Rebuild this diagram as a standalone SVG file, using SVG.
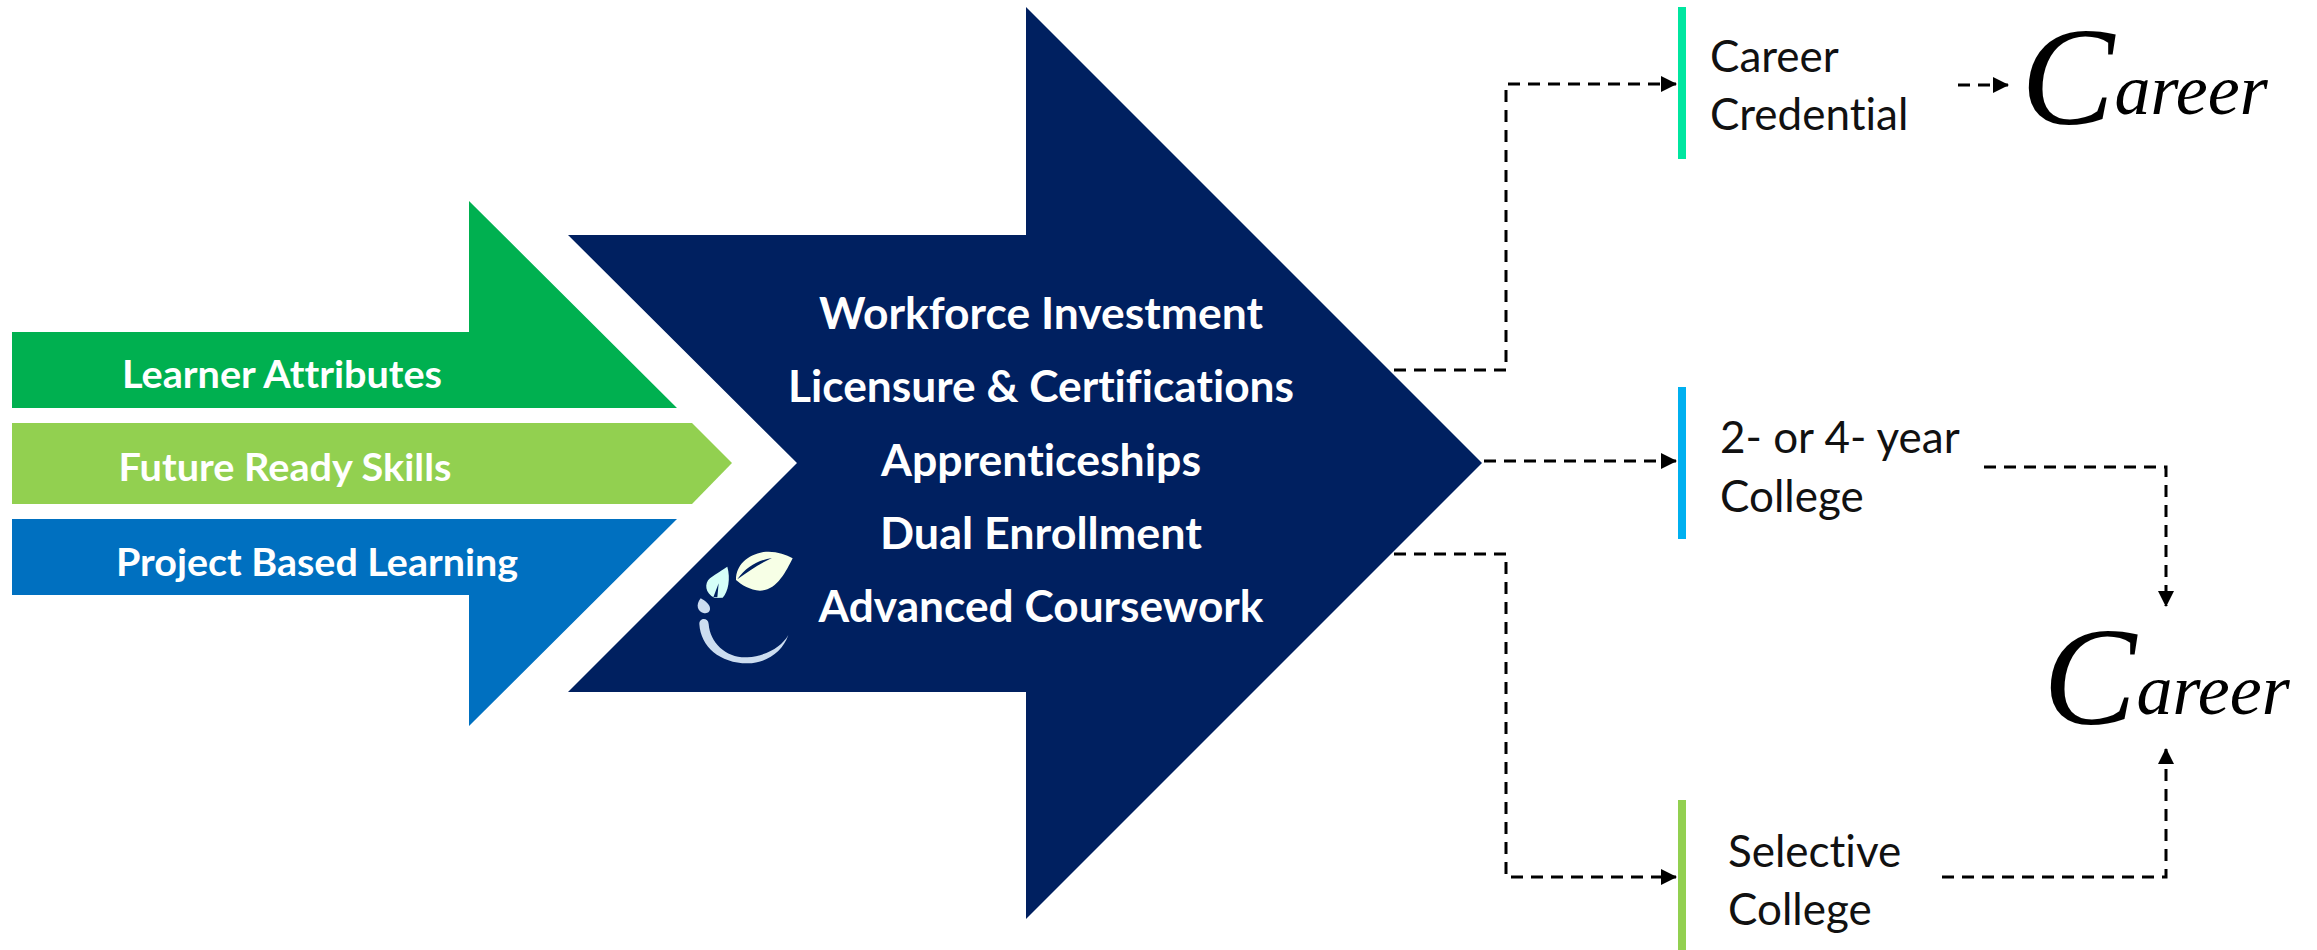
<svg xmlns="http://www.w3.org/2000/svg" width="2317" height="950" viewBox="0 0 2317 950">
<style>
text{font-variant-ligatures:none}
.w{font-family:Lato,"Liberation Sans",sans-serif;font-weight:700;fill:#fff;text-anchor:middle}
.s{font-size:38px}
.m{font-size:44px}
.b{font-family:Lato,"Liberation Sans",sans-serif;font-size:44px;fill:#111}
.c{font-family:"Liberation Serif",serif;font-style:italic;fill:#000;font-size:140px}
.c tspan{font-size:72px}
.d{fill:none;stroke:#000;stroke-width:3;stroke-dasharray:12 8;marker-end:url(#a)}
</style>
<defs><marker id="a" markerUnits="userSpaceOnUse" markerWidth="16" markerHeight="16" refX="15" refY="8" orient="auto"><path d="M0 0L16 8L0 16Z" fill="#000"/></marker></defs>
<rect width="2317" height="950" fill="#fff"/>
<g id="node-learner"><path d="M12 332H469V201L677 408H12Z" fill="#00B050"/><text class="w s" x="282" y="388" textLength="320" lengthAdjust="spacingAndGlyphs">Learner Attributes</text></g>
<g id="node-future"><path d="M12 423H692L732 463L692 504H12Z" fill="#92D050"/><text class="w s" x="285" y="481" textLength="333" lengthAdjust="spacingAndGlyphs">Future Ready Skills</text></g>
<g id="node-project"><path d="M12 519H677L469 726V595H12Z" fill="#0070C0"/><text class="w s" x="317" y="576" textLength="402" lengthAdjust="spacingAndGlyphs">Project Based Learning</text></g>
<g id="node-main"><path d="M568 235H1026V7L1482 463L1026 919V692H568L797 463Z" fill="#002060"/>
<text class="w m" x="1041" y="329" textLength="444" lengthAdjust="spacingAndGlyphs">Workforce Investment</text>
<text class="w m" x="1041" y="402" textLength="506" lengthAdjust="spacingAndGlyphs">Licensure &amp; Certifications</text>
<text class="w m" x="1041" y="476" textLength="320" lengthAdjust="spacingAndGlyphs">Apprenticeships</text>
<text class="w m" x="1041" y="549" textLength="322" lengthAdjust="spacingAndGlyphs">Dual Enrollment</text>
<text class="w m" x="1041" y="622" textLength="445" lengthAdjust="spacingAndGlyphs">Advanced Coursework</text>
<g id="logo" transform="translate(660 530) scale(.3333)">
<path d="M228 150C228 105 262 75 310 66C345 62 375 72 398 85C378 125 350 182 300 182C270 180 245 165 228 150Z" fill="#F7FFE6"/>
<path d="M232 148C258 110 295 90 336 84C300 100 268 122 232 148Z" fill="#002060"/>
<path d="M164 204C135 190 132 160 150 145C170 130 190 118 202 110C212 145 205 185 188 203Z" fill="#D5FFF8"/>
<path d="M160 202L176 160L172 202Z" fill="#002060"/>
<path d="M133 250C112 245 106 225 122 205C135 212 152 225 150 238C148 248 142 250 133 250Z" fill="#CCDDF0"/>
<path d="M118 282C118 262 145 262 146 282C150 340 200 385 262 382C320 378 365 350 385 315C368 365 320 400 262 400C180 400 122 350 118 282Z" fill="#CCDDF0"/>
</g></g>
<g id="node-credential"><rect x="1678" y="7" width="8" height="152" fill="#00E6A0"/><text class="b" x="1710" y="72">Career</text><text class="b" x="1710" y="130">Credential</text></g>
<g id="node-college"><rect x="1678" y="387" width="8" height="152" fill="#00B0F0"/><text class="b" x="1720" y="453">2- or 4- year</text><text class="b" x="1720" y="512">College</text></g>
<g id="node-selective"><rect x="1678" y="800" width="8" height="150" fill="#92D050"/><text class="b" x="1728" y="867">Selective</text><text class="b" x="1728" y="925">College</text></g>
<g id="node-career-top"><text class="c" x="2021" y="124">C<tspan dy="-10">areer</tspan></text></g>
<g id="node-career-bottom"><text class="c" x="2043" y="724">C<tspan dy="-10">areer</tspan></text></g>
<g id="connectors">
<path class="d" d="M1394 370H1506V84H1676"/>
<path class="d" d="M1484 461H1676"/>
<path class="d" d="M1394 554H1506V877H1676"/>
<path class="d" d="M1958 85H2008"/>
<path class="d" d="M1984 467H2166V606"/>
<path class="d" d="M1942 877H2166V749"/>
</g>
</svg>
